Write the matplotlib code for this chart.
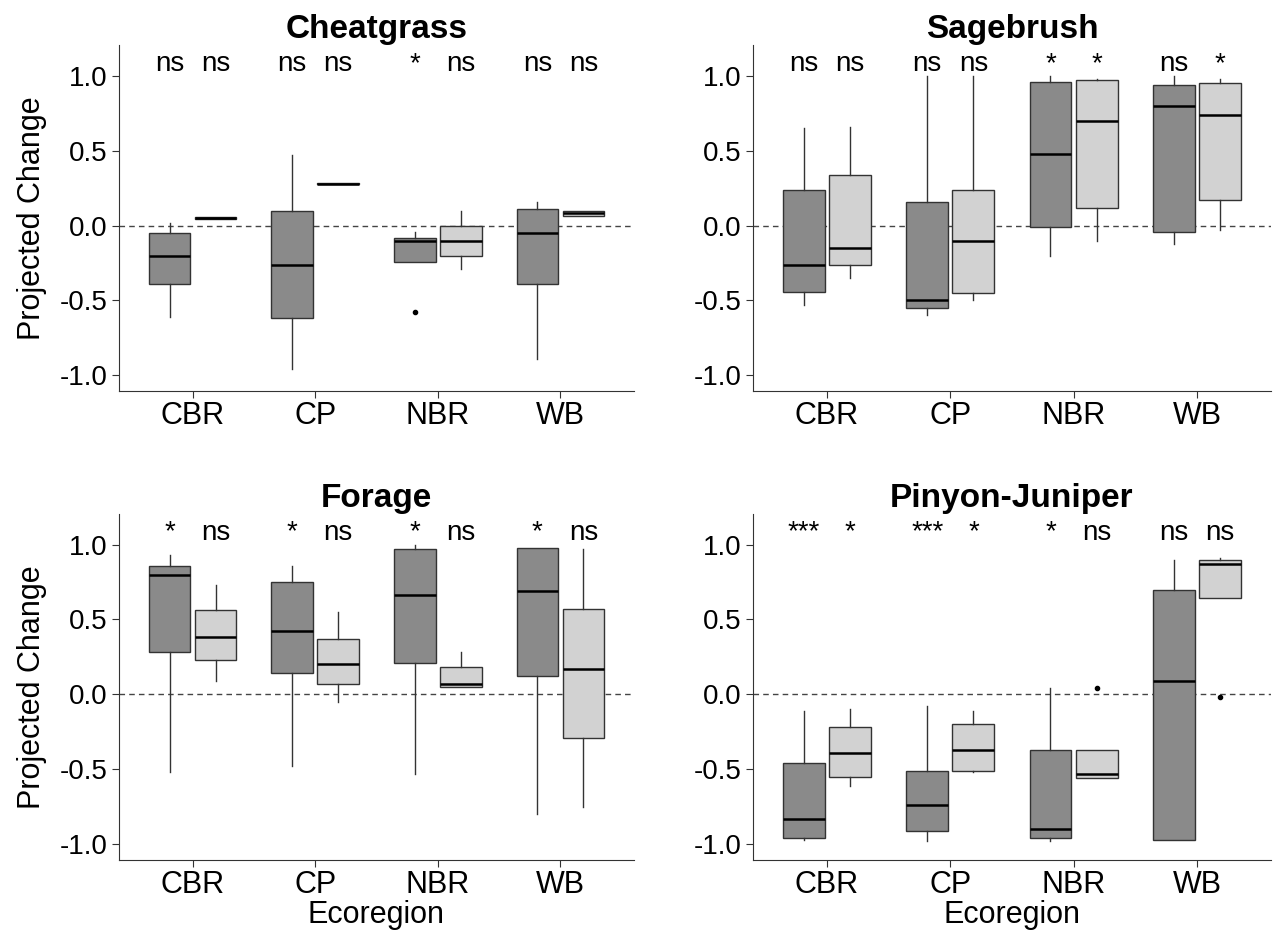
import matplotlib
matplotlib.use("Agg")
import matplotlib.pyplot as plt

plt.rcParams['font.family'] = ['Liberation Sans', 'DejaVu Sans']

# ---- data ----
regions = ['CBR', 'CP', 'NBR', 'WB']
panels = ['Cheatgrass', 'Sagebrush', 'Forage', 'Pinyon-Juniper']

# each box: [whisker low, q1, median, q3, whisker high]
cheat_dark = [[-0.61, -0.39, -0.20, -0.05, 0.02],
              [-0.96, -0.62, -0.26, 0.10, 0.47],
              [-0.24, -0.24, -0.10, -0.08, -0.04],
              [-0.89, -0.39, -0.05, 0.11, 0.16]]
cheat_light = [[0.045, 0.045, 0.05, 0.055, 0.055],
               [0.275, 0.275, 0.28, 0.285, 0.285],
               [-0.29, -0.20, -0.10, 0.0, 0.10],
               [0.067, 0.067, 0.082, 0.10, 0.10]]
sage_dark = [[-0.53, -0.44, -0.26, 0.24, 0.65],
             [-0.60, -0.55, -0.50, 0.16, 1.0],
             [-0.20, -0.01, 0.48, 0.96, 1.0],
             [-0.12, -0.04, 0.80, 0.94, 1.0]]
sage_light = [[-0.35, -0.26, -0.15, 0.34, 0.66],
              [-0.50, -0.45, -0.10, 0.24, 1.0],
              [-0.10, 0.12, 0.70, 0.97, 0.98],
              [-0.03, 0.17, 0.74, 0.95, 0.98]]
forage_dark = [[-0.52, 0.28, 0.80, 0.86, 0.93],
               [-0.48, 0.14, 0.42, 0.75, 0.86],
               [-0.53, 0.21, 0.66, 0.97, 1.0],
               [-0.80, 0.12, 0.69, 0.98, 0.98]]
forage_light = [[0.09, 0.23, 0.38, 0.56, 0.73],
                [-0.05, 0.07, 0.20, 0.37, 0.55],
                [0.05, 0.05, 0.07, 0.18, 0.28],
                [-0.75, -0.29, 0.17, 0.57, 0.97]]
pj_dark = [[-0.97, -0.96, -0.83, -0.46, -0.11],
           [-0.98, -0.91, -0.74, -0.51, -0.08],
           [-0.98, -0.96, -0.90, -0.37, 0.04],
           [-0.97, -0.97, 0.09, 0.70, 0.90]]
pj_light = [[-0.61, -0.55, -0.39, -0.22, -0.10],
            [-0.52, -0.51, -0.37, -0.20, -0.11],
            [-0.56, -0.56, -0.53, -0.37, -0.37],
            [0.64, 0.64, 0.87, 0.90, 0.91]]

# outliers per panel: (region index, group 0=dark 1=light, value)
cheat_out = [(2, 0, -0.58)]
sage_out = []
forage_out = []
pj_out = [(2, 1, 0.04), (3, 1, -0.02)]

# significance labels
cheat_sig = [['ns', 'ns', '*', 'ns'], ['ns', 'ns', 'ns', 'ns']]
sage_sig = [['ns', 'ns', '*', 'ns'], ['ns', 'ns', '*', '*']]
forage_sig = [['*', '*', '*', '*'], ['ns', 'ns', 'ns', 'ns']]
pj_sig = [['***', '***', '*', 'ns'], ['*', '*', 'ns', 'ns']]

dark_col = '#8a8a8a'
light_col = '#d2d2d2'
offset = 0.1875
bw = 0.34

fig = plt.figure(figsize=(12.74, 9.38), dpi=100)
rects = [[0.0934, 0.583, 0.4042, 0.369],
         [0.591, 0.583, 0.4066, 0.369],
         [0.0934, 0.0832, 0.4042, 0.369],
         [0.591, 0.0832, 0.4066, 0.369]]

all_data = [(cheat_dark, cheat_light, cheat_out, cheat_sig),
            (sage_dark, sage_light, sage_out, sage_sig),
            (forage_dark, forage_light, forage_out, forage_sig),
            (pj_dark, pj_light, pj_out, pj_sig)]

for k, (dark, light, outs, sig) in enumerate(all_data):
    ax = fig.add_axes(rects[k])
    ax.axhline(0, color='#444444', linestyle=(0, (4, 3)), linewidth=1.0, zorder=1)
    for g, (grp, col) in enumerate([(dark, dark_col), (light, light_col)]):
        stats = []
        for i, b in enumerate(grp):
            fl = [o[2] for o in outs if o[0] == i and o[1] == g]
            stats.append(dict(whislo=b[0], q1=b[1], med=b[2], q3=b[3],
                              whishi=b[4], fliers=fl))
        pos = [i + 1 + (offset if g else -offset) for i in range(len(regions))]
        ax.bxp(stats, positions=pos, widths=bw, patch_artist=True,
               showcaps=False,
               boxprops=dict(facecolor=col, edgecolor='#333333', linewidth=1.0),
               medianprops=dict(color='black', linewidth=1.8),
               whiskerprops=dict(color='#333333', linewidth=1.0),
               flierprops=dict(marker='o', markersize=3, markerfacecolor='black',
                               markeredgecolor='black'),
               manage_ticks=False, zorder=2)
        for i, s in enumerate(sig[g]):
            ax.text(pos[i], 1.08, s, ha='center', va='center', fontsize=20,
                    color='black')
    ax.set_xlim(0.4, 4.6)
    ax.set_ylim(-1.105, 1.205)
    ax.set_xticks(range(1, 5))
    ax.set_xticklabels(regions, fontsize=22)
    ax.set_yticks([-1.0, -0.5, 0.0, 0.5, 1.0])
    ax.set_yticklabels(['-1.0', '-0.5', '0.0', '0.5', '1.0'], fontsize=20)
    ax.tick_params(direction='out', length=5, width=0.8, colors='#333333',
                   labelcolor='black')
    ax.tick_params(axis='x', pad=2)
    for side in ['top', 'right']:
        ax.spines[side].set_visible(False)
    for side in ['left', 'bottom']:
        ax.spines[side].set_color('#333333')
    ax.set_title(panels[k], fontsize=24, fontweight='bold', pad=4)
    if k % 2 == 0:
        ax.set_ylabel('Projected Change', fontsize=22, labelpad=9)
    if k >= 2:
        ax.set_xlabel('Ecoregion', fontsize=22, labelpad=0)

fig.savefig('out.png', dpi=100)
